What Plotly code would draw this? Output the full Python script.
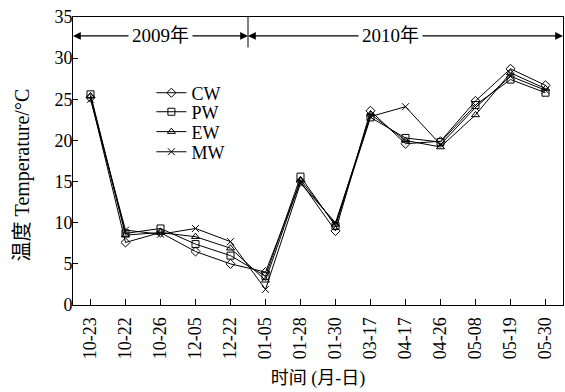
import plotly.graph_objects as go

dates = ["10-23", "10-22", "10-26", "12-05", "12-22", "01-05", "01-28",
         "01-30", "03-17", "04-17", "04-26", "05-08", "05-19", "05-30"]
cw = [25.2, 7.6, 8.8, 6.5, 5.0, 4.0, 15.0, 9.0, 23.6, 19.6, 19.9, 24.8, 28.7, 26.7]
pw = [25.6, 8.7, 9.3, 7.4, 6.0, 3.5, 15.6, 9.6, 22.8, 20.3, 19.8, 24.3, 27.4, 25.8]
ew = [25.4, 8.5, 8.8, 8.3, 6.9, 3.0, 15.2, 9.8, 23.2, 20.0, 19.2, 23.1, 28.2, 26.3]
mw = [25.0, 9.1, 8.6, 9.3, 7.7, 1.9, 14.8, 10.0, 22.9, 24.1, 19.5, 24.0, 27.8, 26.1]
series = [("CW", cw, "diamond-open"), ("PW", pw, "square-open"),
          ("EW", ew, "triangle-up-open"), ("MW", mw, "x-thin-open")]
years = ["2009年", "2010年"]
y_title = "温度 Temperature/°C"
x_title = "时间 (月-日)"

FONT = "Liberation Serif, Times New Roman, Noto Sans CJK SC, serif"
fig = go.Figure()
x = list(range(len(dates)))
legend_names = ["legend", "legend2", "legend3", "legend4"]
legend_y = [0.736, 0.670, 0.601, 0.531]
for (name, vals, sym), lg in zip(series, legend_names):
    fig.add_trace(go.Scatter(
        x=x, y=vals, name=name, mode="lines+markers", legend=lg,
        line=dict(color="black", width=1),
        marker=dict(symbol=sym, size=7, color="black",
                    line=dict(color="black", width=1)),
    ))

ya = 32.7
div = 4.5
# divider
fig.add_shape(type="line", x0=div, x1=div, y0=35, y1=31.3,
              line=dict(color="black", width=1))
# arrows
for (x0, x1, xm, txt) in [(-0.5, div, 2.0, years[0]), (div, 13.5, 8.57, years[1])]:
    for tip in (x0, x1):
        fig.add_annotation(x=tip, y=ya, ax=xm, ay=ya, axref="x", ayref="y",
                           xref="x", yref="y", text="", showarrow=True,
                           arrowhead=2, arrowsize=1.3, arrowwidth=1.2,
                           arrowcolor="black", standoff=0, startstandoff=0)
    fig.add_annotation(x=xm, y=ya, text=txt, showarrow=False,
                       bgcolor="white", borderpad=3,
                       font=dict(family=FONT, size=19, color="black"))

# y-axis title as rotated annotation
fig.add_annotation(x=-0.104, y=0.45, xref="paper", yref="paper",
                   text=y_title, textangle=-90, showarrow=False,
                   xanchor="center", yanchor="middle",
                   font=dict(family=FONT, size=20, color="black"))

layout_legends = {}
for lg, ly in zip(legend_names, legend_y):
    layout_legends[lg] = dict(x=0.16, y=ly, xanchor="left", yanchor="middle",
                              bgcolor="rgba(0,0,0,0)", font=dict(size=18),
                              itemwidth=30)

fig.update_layout(
    width=565, height=392,
    margin=dict(l=73, r=2, t=17, b=87, autoexpand=False),
    plot_bgcolor="white", paper_bgcolor="white",
    font=dict(family=FONT, size=18, color="black"),
    showlegend=True,
    xaxis=dict(
        range=[-0.5, 13.5], tickmode="array", tickvals=x, ticktext=dates,
        tickangle=-90, ticks="inside", ticklen=6, tickcolor="black",
        showline=True, linecolor="black", linewidth=1, mirror=True,
        showgrid=False, zeroline=False, automargin=False,
        ticklabelstandoff=4,
        title=dict(text=x_title, font=dict(size=18), standoff=13),
    ),
    yaxis=dict(
        range=[0, 35], tickvals=[0, 5, 10, 15, 20, 25, 30, 35],
        ticks="inside", ticklen=5, tickcolor="black",
        showline=True, linecolor="black", linewidth=1, mirror=True,
        showgrid=False, zeroline=False, automargin=False,
        ticklabelstandoff=-4,
    ),
    **layout_legends,
)

fig.write_html("out.html", config={"displayModeBar": False},
               post_script="document.body.style.margin='0';document.body.style.overflow='hidden';")
